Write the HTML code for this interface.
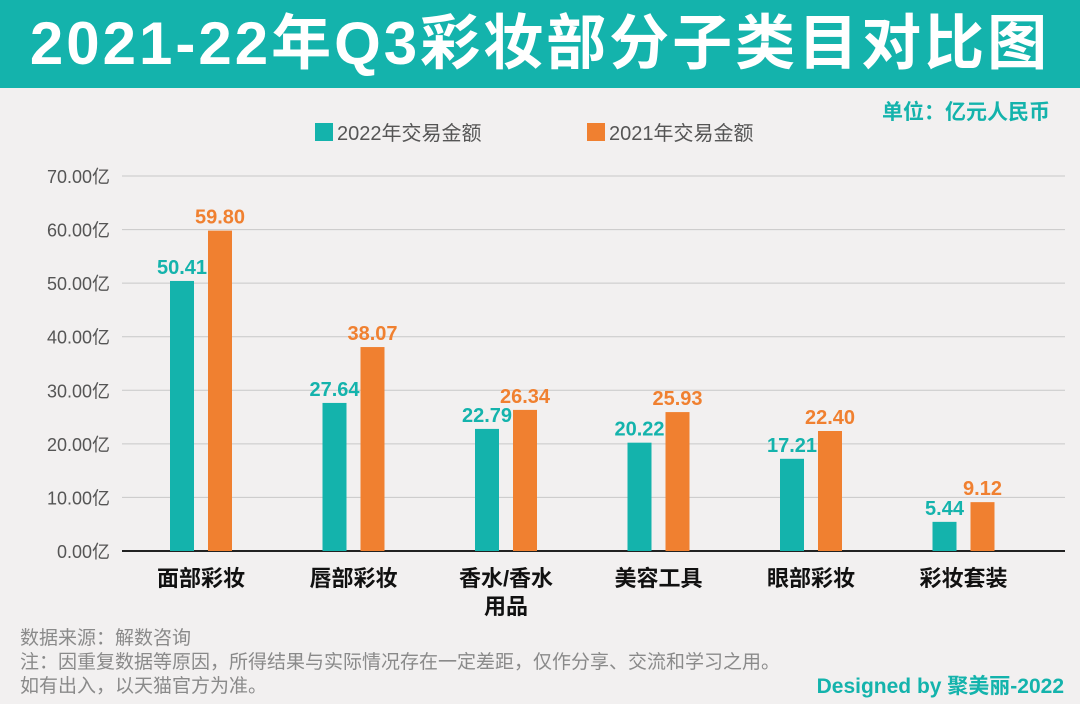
<!DOCTYPE html>
<html><head><meta charset="utf-8"><style>
body{margin:0;width:1080px;height:704px;background:#f2f0f0;font-family:"Liberation Sans","Noto Sans CJK SC",sans-serif;overflow:hidden;position:relative}
.title{position:absolute;left:0;top:0;width:1080px;height:88px;background:#14b3ac;color:#fff;font-weight:bold;font-size:60px;line-height:88px;text-align:center;letter-spacing:3px;white-space:nowrap}
.note{position:absolute;left:20px;top:627px;font-size:19px;color:#8a8a8a;line-height:24px;white-space:nowrap}
</style></head><body>
<div class="title">2021-22年Q3彩妆部分子类目对比图</div>
<svg id="c" width="1080" height="704" style="position:absolute;left:0;top:0"></svg>
<div class="note">数据来源：解数咨询<br>注：因重复数据等原因，所得结果与实际情况存在一定差距，仅作分享、交流和学习之用。<br>如有出入，以天猫官方为准。</div>
<script>
const categories=["面部彩妆","唇部彩妆","香水/香水|用品","美容工具","眼部彩妆","彩妆套装"];
const v2022=[50.41,27.64,22.79,20.22,17.21,5.44];
const v2021=[59.80,38.07,26.34,25.93,22.40,9.12];
const ticks=[0,10,20,30,40,50,60,70];
const NS="http://www.w3.org/2000/svg";
const svg=document.getElementById('c');
const x0=122,x1=1065,yb=551,yt=176,maxV=70;
const band=152.5,firstC=201;
const y=v=>yb-(v/maxV)*(yb-yt);
const xc=i=>firstC+band*i;
function mk(t,a,txt){const e=document.createElementNS(NS,t);for(const k in a)e.setAttribute(k,a[k]);if(txt!==undefined)e.textContent=txt;svg.appendChild(e);return e;}
ticks.forEach(t=>{
 const l=mk('line',{x1:x0,x2:x1,y1:y(t),y2:y(t),stroke:t===0?'#222':'#c8c8c8','stroke-width':t===0?2:1});
 
 
 const tx=mk('text',{x:110,y:y(t)+7,'text-anchor':'end','font-size':18,fill:'#555'},t.toFixed(2)+'亿');
 
 
});
categories.forEach((c,i)=>{
 const cx=xc(i);
 [[v2022[i],-19,'#14b3ac'],[v2021[i],19,'#f08030']].forEach(([v,o,col],k)=>{
  const r=mk('rect',{x:cx+o-12,y:y(v),width:24,height:yb-y(v),fill:col});
  
  
  const t=mk('text',{x:cx+o,y:y(v)-7,'text-anchor':'middle','font-size':20,'font-weight':'bold',fill:col},v.toFixed(2));
  
  
 });
 c.split('|').forEach((p,j)=>{
  const t=mk('text',{x:cx,y:586+j*28,'text-anchor':'middle','font-size':22,'font-weight':'bold',fill:'#111'},p);
  
  
 });
});
[[315,'#14b3ac','2022年交易金额'],[587,'#f08030','2021年交易金额']].forEach(([lx,col,txt])=>{
 const r=mk('rect',{x:lx,y:123,width:18,height:18,fill:col});
 
 
 const t=mk('text',{x:lx+22,y:140,'font-size':20,fill:'#555'},txt);
 
 
});
const u=mk('text',{x:1050,y:119,'text-anchor':'end','font-size':21,'font-weight':'bold',fill:'#14b3ac'},'单位：亿元人民币');


const d=mk('text',{x:1064,y:693,'text-anchor':'end','font-size':21,'font-weight':'bold',fill:'#14b3ac'},'Designed by 聚美丽-2022');


</script>
</body></html>
